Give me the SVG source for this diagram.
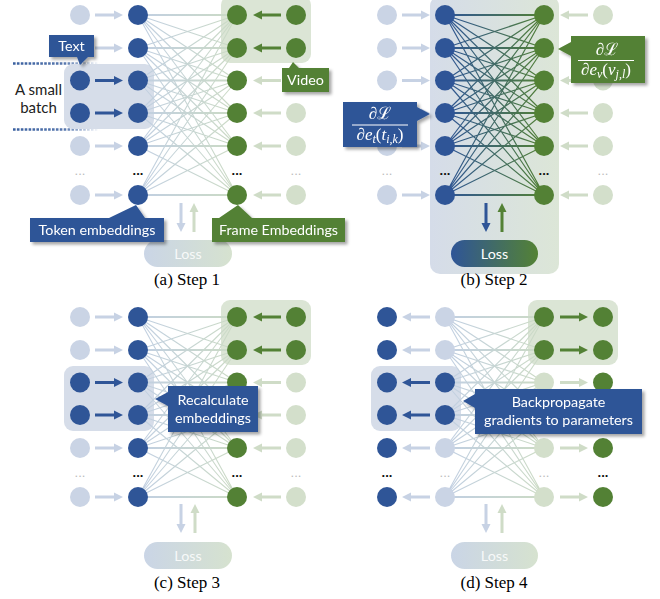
<svg xmlns="http://www.w3.org/2000/svg" xmlns:xlink="http://www.w3.org/1999/xlink" width="660" height="599" viewBox="0 0 660 599">
<style>
.B{fill:#2f5597}.b{fill:#cad4e5}.G{fill:#538135}.g{fill:#d3dfcb}
.aB{fill:#2f5597}.ab{fill:#c7d2e4}.aG{fill:#538135}.ag{fill:#cfdcc7}
.lbl{font-family:Lato,"Open Sans",sans-serif;font-size:14.3px;fill:#fff;text-anchor:middle}
.cap{font-family:"Liberation Serif","Times New Roman",serif;font-size:17px;fill:#000;text-anchor:middle}
.dotK{font-family:"Liberation Sans",sans-serif;font-size:13px;font-weight:bold;fill:#111;text-anchor:middle}
.dotF{font-family:"Liberation Sans",sans-serif;font-size:13px;fill:#bbb;text-anchor:middle}
.math{font-family:"Liberation Serif","DejaVu Serif",serif;font-size:17px;fill:#fff;text-anchor:middle;font-style:italic}
.cb{fill:#2f5597}.cg{fill:#538135}
.boxB{fill:#d6dde9}.boxG{fill:#dbe5d5}
</style>
<defs>
<filter id="sh" x="-10%" y="-10%" width="130%" height="140%"><feDropShadow dx="2.5" dy="2.5" stdDeviation="1.5" flood-color="#000" flood-opacity="0.35"/></filter>
<linearGradient id="gFaint" gradientUnits="userSpaceOnUse" x1="138" y1="0" x2="237" y2="0"><stop offset="0" stop-color="#c1cfe3"/><stop offset="1" stop-color="#ccdbc4"/></linearGradient>
<linearGradient id="gDark" gradientUnits="userSpaceOnUse" x1="138" y1="0" x2="237" y2="0"><stop offset="0" stop-color="#2f5597"/><stop offset="1" stop-color="#538135"/></linearGradient>
<linearGradient id="gLossF" x1="0" y1="0" x2="1" y2="0"><stop offset="0" stop-color="#cad5e6"/><stop offset="1" stop-color="#d6e2cf"/></linearGradient>
<linearGradient id="gLoss" x1="0" y1="0" x2="1" y2="0"><stop offset="0" stop-color="#2f5597"/><stop offset="1" stop-color="#548235"/></linearGradient>
<linearGradient id="gBig" x1="0" y1="0" x2="1" y2="0"><stop offset="0" stop-color="#d5dce9"/><stop offset="1" stop-color="#dce6d7"/></linearGradient>
<linearGradient id="gDash" gradientUnits="userSpaceOnUse" x1="13" y1="0" x2="100" y2="0"><stop offset="0" stop-color="#3a60a0"/><stop offset="0.6" stop-color="#5878ae"/><stop offset="1" stop-color="#5a7bb0" stop-opacity="0"/></linearGradient>
<path id="meshD" d="M138 15L237 48M138 15L237 80.5M138 15L237 113M138 15L237 146M138 15L237 195M138 48L237 15M138 48L237 80.5M138 48L237 113M138 48L237 146M138 48L237 195M138 80.5L237 15M138 80.5L237 48M138 80.5L237 113M138 80.5L237 146M138 80.5L237 195M138 113L237 15M138 113L237 48M138 113L237 80.5M138 113L237 146M138 113L237 195M138 146L237 15M138 146L237 48M138 146L237 80.5M138 146L237 113M138 146L237 195M138 195L237 15M138 195L237 48M138 195L237 80.5M138 195L237 113M138 195L237 146" fill="none"/>
<path id="meshH" d="M138 15H237M138 48H237M138 80.5H237M138 113H237M138 146H237M138 195H237" fill="none"/>
<path id="arR" d="M0,-1.5H19V-4.5L28,0L19,4.5V1.5H0Z"/>
<path id="arL" d="M0,-1.5H-19V-4.5L-28,0L-19,4.5V1.5H0Z"/>
<path id="arD" d="M-1.5,0V20H-4.5L0,29L4.5,20H1.5V0Z"/>
<path id="arU" d="M-1.5,0V-20H-4.5L0,-29L4.5,-20H1.5V0Z"/>
</defs>

<!-- ================= PANEL A ================= -->
<g id="panel-a">
<rect id="a-video-batch" class="boxG" x="221" y="-4" width="90" height="67" rx="9"/>
<line x1="13" y1="63.5" x2="100" y2="63.5" stroke="url(#gDash)" stroke-width="2.6" stroke-dasharray="2.6 1.3"/>
<line x1="13" y1="129.5" x2="100" y2="129.5" stroke="url(#gDash)" stroke-width="2.6" stroke-dasharray="2.6 1.3"/>
<rect id="a-text-batch" class="boxB" x="64" y="64" width="90" height="65" rx="9"/>
<g id="a-connectors">
<use href="#meshD" stroke="url(#gFaint)" stroke-width="1.1"/>
<use href="#meshH" stroke="url(#gFaint)" stroke-width="2"/>
<use href="#arR" x="95" y="15" class="ab"/><use href="#arR" x="95" y="48" class="ab"/><use href="#arR" x="95" y="80.5" class="aB"/><use href="#arR" x="95" y="113" class="aB"/><use href="#arR" x="95" y="146" class="ab"/><use href="#arR" x="95" y="195" class="ab"/>
<use href="#arL" x="281" y="15" class="aG"/><use href="#arL" x="281" y="48" class="aG"/><use href="#arL" x="281" y="80.5" class="ag"/><use href="#arL" x="281" y="113" class="ag"/><use href="#arL" x="281" y="146" class="ag"/><use href="#arL" x="281" y="195" class="ag"/>
<use href="#arD" x="181" y="203" class="ab"/><use href="#arU" x="194" y="232" class="ag"/>
</g>
<g id="a-c1"><circle class="b" cx="80" cy="15" r="10"/><circle class="b" cx="80" cy="48" r="10"/><circle class="B" cx="80" cy="80.5" r="10"/><circle class="B" cx="80" cy="113" r="10"/><circle class="b" cx="80" cy="146" r="10"/><circle class="b" cx="80" cy="195" r="10"/><text class="dotF" x="80" y="175">...</text></g>
<g id="a-c2"><circle class="B" cx="138" cy="15" r="10"/><circle class="B" cx="138" cy="48" r="10"/><circle class="B" cx="138" cy="80.5" r="10"/><circle class="B" cx="138" cy="113" r="10"/><circle class="B" cx="138" cy="146" r="10"/><circle class="B" cx="138" cy="195" r="10"/><text class="dotK" x="138" y="175">...</text></g>
<g id="a-c3"><circle class="G" cx="237" cy="15" r="10"/><circle class="G" cx="237" cy="48" r="10"/><circle class="G" cx="237" cy="80.5" r="10"/><circle class="G" cx="237" cy="113" r="10"/><circle class="G" cx="237" cy="146" r="10"/><circle class="G" cx="237" cy="195" r="10"/><text class="dotK" x="237" y="175">...</text></g>
<g id="a-c4"><circle class="G" cx="296" cy="15" r="10"/><circle class="G" cx="296" cy="48" r="10"/><circle class="g" cx="296" cy="80.5" r="10"/><circle class="g" cx="296" cy="113" r="10"/><circle class="g" cx="296" cy="146" r="10"/><circle class="g" cx="296" cy="195" r="10"/><text class="dotF" x="296" y="175">...</text></g>
<g id="a-loss"><rect x="144" y="240" width="88" height="27" rx="13.5" fill="url(#gLossF)"/><text class="lbl" x="188" y="258.5" fill-opacity="0.85">Loss</text></g>
<text id="a-small-batch" font-family="Lato,'Open Sans',sans-serif" font-size="15" fill="#222" text-anchor="middle"><tspan x="38.5" y="95">A small</tspan><tspan x="38.5" y="112.5">batch</tspan></text>
<g id="a-text-callout" filter="url(#sh)"><path class="cb" d="M49,35H94V57H88L80,65L77,57H49Z"/><text class="lbl" x="71.5" y="51">Text</text></g>
<g id="a-video-callout" filter="url(#sh)"><path class="cg" d="M282,68H289L293,62L299,68H329V92H282Z"/><text class="lbl" x="305.5" y="85">Video</text></g>
<g id="a-token-callout" filter="url(#sh)"><path class="cb" d="M30,218H109L136,205L145,218H164V242H30Z"/><text class="lbl" x="97" y="235">Token embeddings</text></g>
<g id="a-frame-callout" filter="url(#sh)"><path class="cg" d="M212,218H219L238,205L252,218H345V242H212Z"/><text class="lbl" x="278.5" y="235">Frame Embeddings</text></g>
<text class="cap" x="187" y="285">(a) Step 1</text>
</g>

<!-- ================= PANEL B ================= -->
<g id="panel-b">
<rect id="b-bg" x="430" y="-4" width="129" height="278" rx="10" fill="url(#gBig)"/>
<g id="b-connectors">
<use href="#meshD" transform="translate(307,0)" stroke="url(#gDark)" stroke-width="1.2"/>
<use href="#meshH" transform="translate(307,0)" stroke="url(#gDark)" stroke-width="2.2"/>
<g transform="translate(307,0)">
<use href="#arR" x="95" y="15" class="ab"/><use href="#arR" x="95" y="48" class="ab"/><use href="#arR" x="95" y="80.5" class="ab"/><use href="#arR" x="95" y="113" class="ab"/><use href="#arR" x="95" y="146" class="ab"/><use href="#arR" x="95" y="195" class="ab"/>
<use href="#arL" x="281" y="15" class="ag"/><use href="#arL" x="281" y="48" class="ag"/><use href="#arL" x="281" y="80.5" class="ag"/><use href="#arL" x="281" y="113" class="ag"/><use href="#arL" x="281" y="146" class="ag"/><use href="#arL" x="281" y="195" class="ag"/>
</g>
<use href="#arD" x="486" y="203" class="aB"/><use href="#arU" x="502" y="232" class="aG"/>
</g>
<g id="b-c1"><circle class="b" cx="387" cy="15" r="10"/><circle class="b" cx="387" cy="48" r="10"/><circle class="b" cx="387" cy="80.5" r="10"/><circle class="b" cx="387" cy="113" r="10"/><circle class="b" cx="387" cy="146" r="10"/><circle class="b" cx="387" cy="195" r="10"/><text class="dotF" x="387" y="175">...</text></g>
<g id="b-c2"><circle class="B" cx="445" cy="15" r="10"/><circle class="B" cx="445" cy="48" r="10"/><circle class="B" cx="445" cy="80.5" r="10"/><circle class="B" cx="445" cy="113" r="10"/><circle class="B" cx="445" cy="146" r="10"/><circle class="B" cx="445" cy="195" r="10"/><text class="dotK" x="445" y="175">...</text></g>
<g id="b-c3"><circle class="G" cx="544" cy="15" r="10"/><circle class="G" cx="544" cy="48" r="10"/><circle class="G" cx="544" cy="80.5" r="10"/><circle class="G" cx="544" cy="113" r="10"/><circle class="G" cx="544" cy="146" r="10"/><circle class="G" cx="544" cy="195" r="10"/><text class="dotK" x="544" y="175">...</text></g>
<g id="b-c4"><circle class="g" cx="603" cy="15" r="10"/><circle class="g" cx="603" cy="48" r="10"/><circle class="g" cx="603" cy="80.5" r="10"/><circle class="g" cx="603" cy="113" r="10"/><circle class="g" cx="603" cy="146" r="10"/><circle class="g" cx="603" cy="195" r="10"/><text class="dotF" x="603" y="175">...</text></g>
<g id="b-loss"><rect x="451" y="240" width="87" height="27" rx="13.5" fill="url(#gLoss)"/><text class="lbl" x="494.5" y="258.5">Loss</text></g>
<g id="b-grad-t" filter="url(#sh)"><path class="cb" d="M343,102H417V107L430,114L417,121V147H343Z"/>
<text class="math" x="380" y="119"><tspan font-style="normal">∂ℒ</tspan></text>
<line x1="352" y1="125" x2="408" y2="125" stroke="#fff" stroke-width="1"/>
<text class="math" x="380" y="140"><tspan font-style="normal">∂</tspan>e<tspan font-size="12" dy="3">t</tspan><tspan font-style="normal" dy="-3">(</tspan>t<tspan font-size="12" dy="3">i,k</tspan><tspan font-style="normal" dy="-3">)</tspan></text></g>
<g id="b-grad-v" filter="url(#sh)"><path class="cg" d="M571,36H645V83H571V56L558,49L571,42Z"/>
<text class="math" x="607" y="55"><tspan font-style="normal">∂ℒ</tspan></text>
<line x1="578" y1="60.5" x2="634" y2="60.5" stroke="#fff" stroke-width="1"/>
<text class="math" x="606" y="75"><tspan font-style="normal">∂</tspan>e<tspan font-size="12" dy="3">v</tspan><tspan font-style="normal" dy="-3">(</tspan>v<tspan font-size="12" dy="3">j,l</tspan><tspan font-style="normal" dy="-3">)</tspan></text></g>
<text class="cap" x="494" y="285">(b) Step 2</text>
</g>

<!-- ================= PANEL C ================= -->
<g id="panel-c">
<rect id="c-video-batch" class="boxG" x="221" y="300" width="90" height="65" rx="9"/>
<rect id="c-text-batch" class="boxB" x="64" y="366" width="90" height="65" rx="9"/>
<g id="c-connectors">
<use href="#meshD" transform="translate(0,302)" stroke="url(#gFaint)" stroke-width="1.1"/>
<use href="#meshH" transform="translate(0,302)" stroke="url(#gFaint)" stroke-width="2"/>
<g transform="translate(0,302)">
<use href="#arR" x="95" y="15" class="ab"/><use href="#arR" x="95" y="48" class="ab"/><use href="#arR" x="95" y="80.5" class="aB"/><use href="#arR" x="95" y="113" class="aB"/><use href="#arR" x="95" y="146" class="ab"/><use href="#arR" x="95" y="195" class="ab"/>
<use href="#arL" x="281" y="15" class="aG"/><use href="#arL" x="281" y="48" class="aG"/><use href="#arL" x="281" y="80.5" class="ag"/><use href="#arL" x="281" y="113" class="ag"/><use href="#arL" x="281" y="146" class="ag"/><use href="#arL" x="281" y="195" class="ag"/>
</g>
<use href="#arD" x="181" y="504" class="ab"/><use href="#arU" x="195" y="533" class="ag"/>
</g>
<g id="c-c1"><circle class="b" cx="80" cy="317" r="10"/><circle class="b" cx="80" cy="350" r="10"/><circle class="B" cx="80" cy="382.5" r="10"/><circle class="B" cx="80" cy="415" r="10"/><circle class="b" cx="80" cy="448" r="10"/><circle class="b" cx="80" cy="497" r="10"/><text class="dotF" x="80" y="477">...</text></g>
<g id="c-c2"><circle class="B" cx="138" cy="317" r="10"/><circle class="B" cx="138" cy="350" r="10"/><circle class="B" cx="138" cy="382.5" r="10"/><circle class="B" cx="138" cy="415" r="10"/><circle class="B" cx="138" cy="448" r="10"/><circle class="B" cx="138" cy="497" r="10"/><text class="dotK" x="138" y="477">...</text></g>
<g id="c-c3"><circle class="G" cx="237" cy="317" r="10"/><circle class="G" cx="237" cy="350" r="10"/><circle class="G" cx="237" cy="382.5" r="10"/><circle class="G" cx="237" cy="415" r="10"/><circle class="G" cx="237" cy="448" r="10"/><circle class="G" cx="237" cy="497" r="10"/><text class="dotK" x="237" y="477">...</text></g>
<g id="c-c4"><circle class="G" cx="296" cy="317" r="10"/><circle class="G" cx="296" cy="350" r="10"/><circle class="g" cx="296" cy="382.5" r="10"/><circle class="g" cx="296" cy="415" r="10"/><circle class="g" cx="296" cy="448" r="10"/><circle class="g" cx="296" cy="497" r="10"/><text class="dotF" x="296" y="477">...</text></g>
<g id="c-loss"><rect x="144" y="542" width="88" height="27" rx="13.5" fill="url(#gLossF)"/><text class="lbl" x="188" y="560.5" fill-opacity="0.85">Loss</text></g>
<g id="c-recalc-callout" filter="url(#sh)"><path class="cb" d="M168,386H258V432H168V406L155,399L168,392Z"/><text class="lbl" x="213" y="405">Recalculate</text><text class="lbl" x="213" y="423">embeddings</text></g>
<text class="cap" x="187" y="588">(c) Step 3</text>
</g>

<!-- ================= PANEL D ================= -->
<g id="panel-d">
<rect id="d-video-batch" class="boxG" x="528" y="300" width="90" height="65" rx="9"/>
<rect id="d-text-batch" class="boxB" x="371" y="366" width="90" height="65" rx="9"/>
<g id="d-connectors">
<use href="#meshD" transform="translate(307,302)" stroke="url(#gFaint)" stroke-width="1.1"/>
<use href="#meshH" transform="translate(307,302)" stroke="url(#gFaint)" stroke-width="2"/>
<g transform="translate(307,302)">
<use href="#arL" x="123" y="15" class="ab"/><use href="#arL" x="123" y="48" class="ab"/><use href="#arL" x="123" y="80.5" class="aB"/><use href="#arL" x="123" y="113" class="aB"/><use href="#arL" x="123" y="146" class="ab"/><use href="#arL" x="123" y="195" class="ab"/>
<use href="#arR" x="253" y="15" class="aG"/><use href="#arR" x="253" y="48" class="aG"/><use href="#arR" x="253" y="80.5" class="ag"/><use href="#arR" x="253" y="113" class="ag"/><use href="#arR" x="253" y="146" class="ag"/><use href="#arR" x="253" y="195" class="ag"/>
</g>
<use href="#arD" x="486" y="504" class="ab"/><use href="#arU" x="502" y="533" class="ag"/>
</g>
<g id="d-c1"><circle class="B" cx="387" cy="317" r="10"/><circle class="B" cx="387" cy="350" r="10"/><circle class="B" cx="387" cy="382.5" r="10"/><circle class="B" cx="387" cy="415" r="10"/><circle class="B" cx="387" cy="448" r="10"/><circle class="B" cx="387" cy="497" r="10"/><text class="dotK" x="387" y="477">...</text></g>
<g id="d-c2"><circle class="b" cx="445" cy="317" r="10"/><circle class="b" cx="445" cy="350" r="10"/><circle class="B" cx="445" cy="382.5" r="10"/><circle class="B" cx="445" cy="415" r="10"/><circle class="b" cx="445" cy="448" r="10"/><circle class="b" cx="445" cy="497" r="10"/><text class="dotF" x="445" y="477">...</text></g>
<g id="d-c3"><circle class="G" cx="544" cy="317" r="10"/><circle class="G" cx="544" cy="350" r="10"/><circle class="g" cx="544" cy="382.5" r="10"/><circle class="g" cx="544" cy="415" r="10"/><circle class="g" cx="544" cy="448" r="10"/><circle class="g" cx="544" cy="497" r="10"/><text class="dotF" x="544" y="477">...</text></g>
<g id="d-c4"><circle class="G" cx="603" cy="317" r="10"/><circle class="G" cx="603" cy="350" r="10"/><circle class="G" cx="603" cy="382.5" r="10"/><circle class="G" cx="603" cy="415" r="10"/><circle class="G" cx="603" cy="448" r="10"/><circle class="G" cx="603" cy="497" r="10"/><text class="dotK" x="603" y="477">...</text></g>
<g id="d-loss"><rect x="451" y="542" width="87" height="27" rx="13.5" fill="url(#gLossF)"/><text class="lbl" x="494.5" y="560.5" fill-opacity="0.85">Loss</text></g>
<g id="d-backprop-callout" filter="url(#sh)"><path class="cb" d="M475,389H642V434H475V408L463,401L475,394Z"/><text class="lbl" x="558.5" y="407">Backpropagate</text><text class="lbl" x="558.5" y="425">gradients to parameters</text></g>
<text class="cap" x="494" y="588">(d) Step 4</text>
</g>
</svg>
